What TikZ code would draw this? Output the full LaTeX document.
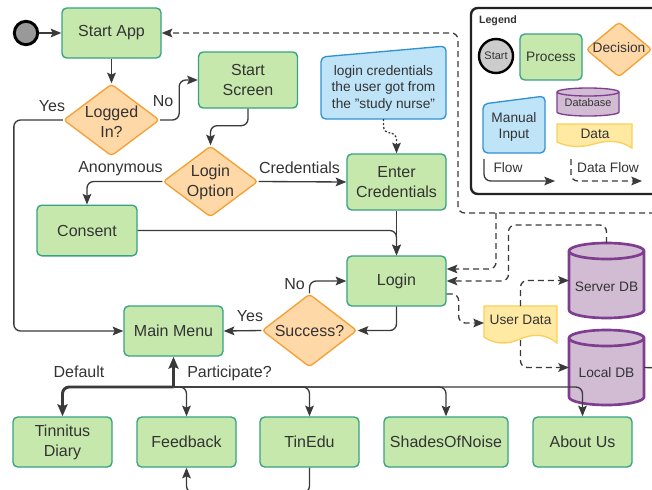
\documentclass[tikz,border=0pt]{standalone}
\usepackage{fontspec}
\setmainfont{Liberation Sans}
\usetikzlibrary{shapes.geometric,arrows.meta,calc}
\definecolor{procfill}{HTML}{C7E8AC}
\definecolor{procline}{HTML}{35A283}
\definecolor{decfill}{HTML}{FFD8A8}
\definecolor{decline}{HTML}{F5A033}
\definecolor{infill}{HTML}{BFE3F7}
\definecolor{inline}{HTML}{2F93D3}
\definecolor{dbfill}{HTML}{D2BCD4}
\definecolor{dbline}{HTML}{7E3D8F}
\definecolor{datafill}{HTML}{FFE9A3}
\definecolor{dataline}{HTML}{FAD05A}
\definecolor{txt}{HTML}{333333}
\definecolor{ln}{HTML}{3A3A3A}
\definecolor{startgray}{HTML}{999999}
\definecolor{lgray}{HTML}{CCCCCC}
\definecolor{legline}{HTML}{222222}
\newcommand\fontMain{\fontsize{12}{15}\selectfont}
\newcommand\fontSmall{\fontsize{10.3}{12.4}\selectfont}
\newcommand\fontTiny{\fontsize{8.2}{10}\selectfont}
\begin{document}
\begin{tikzpicture}[x=0.75pt,y=-0.75pt,
  proc/.style={draw=procline, fill=procfill, rounded corners=3.5pt, line width=1pt, text=txt, font=\fontMain, align=center, inner sep=0pt},
  dec/.style={diamond, draw=decline, fill=decfill, line width=1pt, inner sep=0pt, rounded corners=2.5pt},
  lbl/.style={text=txt, font=\fontMain, inner sep=0pt, align=center},
  slbl/.style={text=txt, font=\fontSmall, inner sep=0pt, align=center},
  ghost/.style={inner sep=0pt, outer sep=0pt},
  myTip/.style={-{Stealth[length=8pt,width=6.5pt,inset=1.5pt]}},
  flow/.style={draw=ln, line width=1pt, rounded corners=5pt, myTip},
  thickflow/.style={draw=ln, line width=2.2pt, rounded corners=5pt, -{Stealth[length=9pt,width=7.5pt,inset=1.5pt]}},
  dflow/.style={draw=ln, line width=1pt, rounded corners=5pt, dash pattern=on 4.5pt off 3pt, myTip},
  dotflow/.style={draw=ln, line width=1pt, rounded corners=5pt, dash pattern=on 1.5pt off 1.5pt, myTip},
  db/.style={draw=dbline, fill=dbfill, line width=2pt},
  docshape/.style={draw=dataline, fill=datafill, line width=1pt},
  inshape/.style={draw=inline, fill=infill, line width=1pt, rounded corners=3.5pt},
]
\useasboundingbox (0,0) rectangle (652,489);

% ---------- main nodes ----------
\node[circle, draw=black, fill=startgray, line width=2.2pt, minimum size=17.5pt, inner sep=0pt] (start) at (26,33) {};
\node[proc, minimum width=74.25pt, minimum height=37.5pt] (startapp) at (111.5,33) {Start App};
\node[dec, minimum width=72pt, minimum height=54pt] (logged) at (111.5,120) {};
\node[lbl] (loggedt) at (111.5,121.5) {Logged\\In?};
\node[proc, minimum width=74.25pt, minimum height=42pt] (startscreen) at (248,80) {Start\\Screen};
\node[dec, minimum width=71.25pt, minimum height=53.25pt] (loginopt) at (210.5,181.5) {};
\node[lbl] (loginoptt) at (210.5,182.5) {Login\\Option};
\node[proc, minimum width=75pt, minimum height=38pt] (consent) at (87,230.5) {Consent};
\node[proc, minimum width=74.25pt, minimum height=42pt] (entercred) at (396.5,182) {Enter\\Credentials};

% manual input
\draw[inshape] (321,119) -- (321,57) -- (446,46) -- (446,119) -- cycle;
\node[ghost, minimum width=93.75pt, minimum height=54.75pt] (manual) at (383.5,82.5) {};
\node[slbl] (manualt) at (383.5,88) {login credentials\\the user got from\\the "study nurse"};

\node[proc, minimum width=74.25pt, minimum height=37.5pt] (login) at (396.5,281) {Login};
\node[dec, minimum width=71.25pt, minimum height=54.75pt] (success) at (309.5,330.5) {};
\node[lbl] (successt) at (success) {Success?};
\node[proc, minimum width=74.25pt, minimum height=37.5pt] (mainmenu) at (173.5,331) {Main Menu};

\node[proc, minimum width=74.25pt, minimum height=37.5pt] (tinnitus) at (62.5,442) {Tinnitus\\Diary};
\node[proc, minimum width=74.25pt, minimum height=37.5pt] (feedback) at (186.5,442) {Feedback};
\node[proc, minimum width=74.25pt, minimum height=37.5pt] (tinedu) at (309.5,442) {TinEdu};
\node[proc, minimum width=93pt, minimum height=37.5pt] (shades) at (446,442) {ShadesOfNoise};
\node[proc, minimum width=74.25pt, minimum height=37.5pt] (about) at (582.5,442) {About Us};

% user data
\draw[docshape] (484,306) -- (557,306) -- (557,343) .. controls (545,333) and (532,334) .. (520,339) .. controls (507,345) and (494,344) .. (484,337) -- cycle;
\node[ghost, minimum width=54.75pt, minimum height=25.5pt] (ud) at (520.5,323) {};
\node[slbl] (udt) at (520.5,320) {User Data};

% databases
\node[ghost, minimum width=56.25pt, minimum height=56.25pt] (sdb) at (606.5,280.5) {};
\draw[db] ([yshift=-6pt]sdb.north west) -- ([yshift=6pt]sdb.south west) arc[start angle=180,end angle=360,x radius=28.125pt,y radius=6pt] -- ([yshift=-6pt]sdb.north east) arc[start angle=0,end angle=180,x radius=28.125pt,y radius=6pt] -- cycle;
\draw[dbline, line width=2pt] ([yshift=-6pt]sdb.north west) arc[start angle=180,end angle=360,x radius=28.125pt,y radius=6pt];
\node[slbl] (sdbt) at (606.5,287) {Server DB};

\node[ghost, minimum width=56.25pt, minimum height=56.25pt] (ldb) at (606.5,367.5) {};
\draw[db] ([yshift=-6pt]ldb.north west) -- ([yshift=6pt]ldb.south west) arc[start angle=180,end angle=360,x radius=28.125pt,y radius=6pt] -- ([yshift=-6pt]ldb.north east) arc[start angle=0,end angle=180,x radius=28.125pt,y radius=6pt] -- cycle;
\draw[dbline, line width=2pt] ([yshift=-6pt]ldb.north west) arc[start angle=180,end angle=360,x radius=28.125pt,y radius=6pt];
\node[slbl] (ldbt) at (606.5,373) {Local DB};

% ---------- labels ----------
\node[lbl] (lyes1) at (52,106) {Yes};
\node[lbl] (lno1) at (163,101) {No};
\node[lbl] (lanon) at (120.5,169) {Anonymous};
\node[lbl] (lcred) at (299.5,168) {Credentials};
\node[lbl] (lno2) at (294.5,284) {No};
\node[lbl] (lyes2) at (250,316) {Yes};
\node[lbl] (ldef) at (79,372) {Default};
\node[lbl] (lpart) at (229.5,373.5) {Participate?};

% ---------- connectors ----------
\draw[flow] (start) -- (startapp);
\draw[flow] (startapp) -- (logged);
\draw[flow] (logged.east) -- ++(19,0) |- (startscreen.west);
\draw[flow] (logged.west) -- ++(-49,0) |- (mainmenu.west);
\draw[flow] (startscreen.south) -- ++(0,17) -| (loginopt.north);
\draw[flow] (loginopt.west) -| (consent.north);
\draw[flow] (loginopt.east) -- (entercred.west);
\draw[dotflow] (manual.south) -- ++(0,14) -| (entercred.north);
\draw[flow] (entercred) -- (login);
\draw[flow] (consent.east) -| (login.north);
\draw[flow] (login.south) |- (success.east);
\draw[flow] (success.north) |- (login.west);
\draw[flow] (success.west) -- (mainmenu.east);

\coordinate (J) at (173.5,387);
\foreach \t in {feedback,tinedu,shades,about} \draw[flow] (J) -| (\t.north);
\draw[thickflow] (J) -- (mainmenu.south);
\draw[thickflow] (J) -| (tinnitus.north);
\draw[flow] (tinedu.south) -- ++(0,25) -| (feedback.south);

\coordinate (E1) at (665,213);
\coordinate (B1) at (496,213);
\draw[dflow] (E1) -- ++(-207,0) |- (startapp.east);
\draw[dflow] (B1) |- ([yshift=9pt]login.east);
\draw[dflow] (sdb.north) -- ++(0,-18) -- ++(-98,0) |- (login.east);
\draw[dflow] ([yshift=-9.75pt]login.east) -- ++(12,0) |- (ud.west);
\draw[dflow] (ud.north) |- (sdb.west);
\draw[dflow] (ud.south) |- (ldb.west);
\coordinate (E2) at (665,368);
\draw[draw=ln, line width=1pt] (ldb.east) -- (E2);

% ---------- legend ----------
\node[draw=legline, line width=1.8pt, rounded corners=5pt, minimum width=145.5pt, minimum height=139.5pt, ghost] (legbox) at (568,101) {};
\node[text=txt, font=\bfseries\fontsize{8}{10}\selectfont, inner sep=0pt] (legtitle) at (498,21) {Legend};
\node[circle, draw=black, fill=lgray, line width=1.8pt, minimum size=25.5pt, inner sep=0pt, text=txt, font=\fontTiny] (legstart) at (496,56) {Start};
\node[proc, font=\fontSmall, minimum width=46.5pt, minimum height=34.5pt] (legproc) at (551,57) {Process};
\node[dec, minimum width=49.5pt, minimum height=41.25pt] (legdec) at (619,49.5) {};
\node[slbl] (legdect) at (619,48) {Decision};
\draw[inshape] (483,153) -- (483,104) -- (545,96) -- (545,153) -- cycle;
\node[slbl] (legin) at (514,127) {Manual\\Input};
\node[ghost, minimum width=46.5pt, minimum height=21pt] (legdb) at (588,102) {};
\draw[db, line width=1pt] ([yshift=-3pt]legdb.north west) -- ([yshift=3pt]legdb.south west) arc[start angle=180,end angle=360,x radius=23.25pt,y radius=3pt] -- ([yshift=-3pt]legdb.north east) arc[start angle=0,end angle=180,x radius=23.25pt,y radius=3pt] -- cycle;
\draw[dbline, line width=1pt] ([yshift=-3pt]legdb.north west) arc[start angle=180,end angle=360,x radius=23.25pt,y radius=3pt];
\node[text=txt, font=\fontTiny, inner sep=0pt] (legdbt) at (588,103) {Database};
\draw[docshape] (557,124) -- (632,124) -- (632,148) .. controls (620,140) and (607,140) .. (594,144) .. controls (581,148) and (567,147) .. (557,142) -- cycle;
\node[slbl] (legdata) at (595,134) {Data};
\coordinate (lf1) at (484,159);
\coordinate (lf2) at (555,181);
\draw[flow] (lf1) |- (lf2);
\node[slbl] (lflow) at (508,168) {Flow};
\coordinate (ldf1) at (571,159);
\coordinate (ldf2) at (642,181);
\draw[dflow] (ldf1) |- (ldf2);
\node[slbl] (ldflow) at (608,168) {Data Flow};
\end{tikzpicture}
\end{document}
